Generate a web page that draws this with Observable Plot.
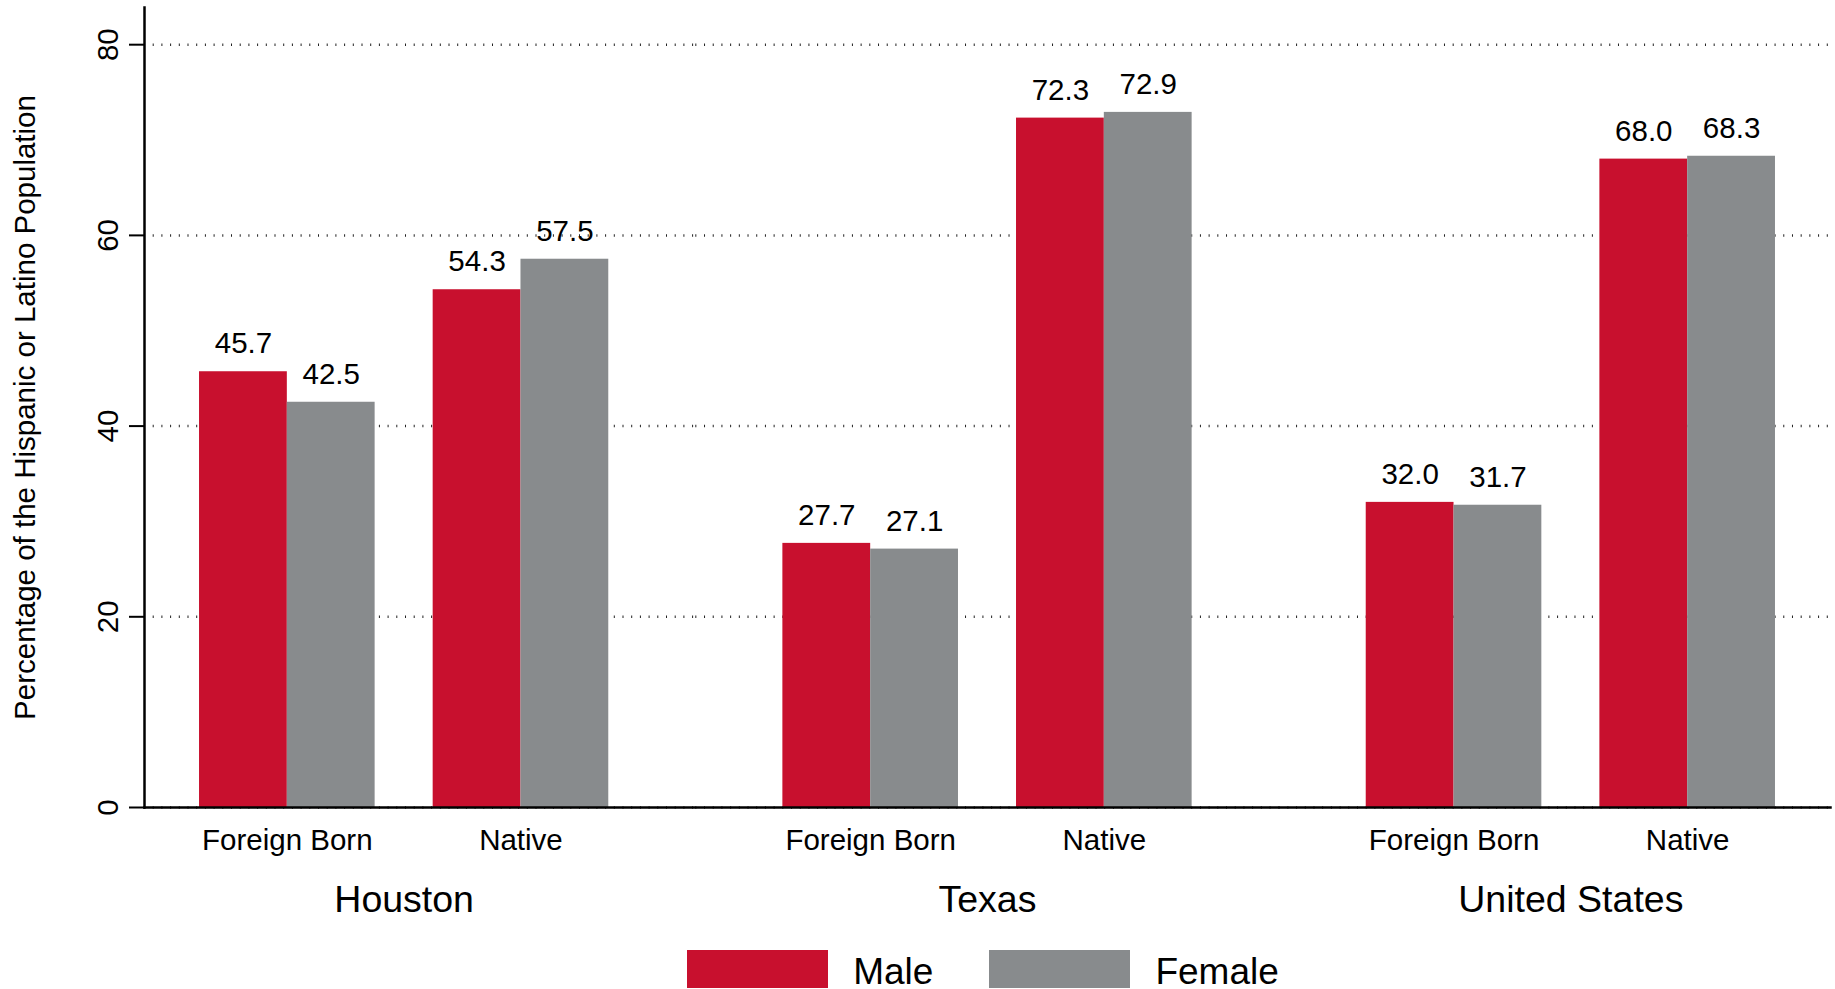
<!DOCTYPE html>
<html><head><meta charset="utf-8">
<script src="https://cdn.jsdelivr.net/npm/d3@7"></script>
<script src="https://cdn.jsdelivr.net/npm/@observablehq/plot@0.6"></script>
<style>
html,body{margin:0;padding:0;background:#fff;}
body{width:1835px;height:989px;overflow:hidden;font-family:"Liberation Sans",Arial,sans-serif;}
#legend{margin-left:140px;width:1686px;margin-top:15px;display:flex;justify-content:center;align-items:center;height:38px;font-size:37px;color:#000;}
#legend .sw{width:141px;height:38px;display:inline-block;}
#legend .lab{margin-left:25px;padding-top:6px;}
#legend .gap{width:56px;display:inline-block;}
</style></head><body>
<div id="chart"></div>
<div id="legend"></div>
<script>
const regions = ["Houston", "Texas", "United States"];
const origins = ["Foreign Born", "Native"];
const sexes = ["Male", "Female"];
const maleValues = [45.7, 54.3, 27.7, 72.3, 32.0, 68.0];
const femaleValues = [42.5, 57.5, 27.1, 72.9, 31.7, 68.3];
const yTicks = [0, 20, 40, 60, 80];
const colors = ["#C8102E", "#888B8D"];
const yLabel = "Percentage of the Hispanic or Latino Population";

const rows = [];
regions.forEach((r, i) => origins.forEach((o, j) => {
  const k = i * origins.length + j;
  rows.push({region: r, origin: o, sex: sexes[0], value: maleValues[k]});
  rows.push({region: r, origin: o, sex: sexes[1], value: femaleValues[k]});
}));
const maleRows = rows.filter(d => d.sex === sexes[0]);
const femaleRows = rows.filter(d => d.sex === sexes[1]);
const font = '"Liberation Sans", Arial, sans-serif';

function build(bw, halfGap) {
  const half = bw / 2;
  const n = regions.length;
  const grids = regions.map((r, i) =>
    Plot.ruleY(yTicks, {y: d => d, fx: () => r, stroke: "#222",
      strokeWidth: 2.5, strokeDasharray: "1 7.7",
      insetLeft: i === 0 ? 0 : -halfGap, insetRight: i === n - 1 ? 0 : -halfGap}));
  return Plot.plot({
    width: 1835, height: 935,
    marginLeft: 144, marginRight: 5, marginTop: 7, marginBottom: 128,
    style: {fontFamily: font, fontSize: "29.8px", color: "#000", background: "#fff", overflow: "visible"},
    fx: {domain: regions, paddingInner: 0.1098, paddingOuter: 0, round: false, axis: null, label: null},
    x: {domain: origins, paddingInner: 0.2484, paddingOuter: 0.2355, round: false, axis: null, label: null},
    y: {domain: [0, 83.9], axis: null},
    color: {domain: sexes, range: colors},
    marks: [
      ...grids,
      Plot.barY(maleRows, {fx: "region", x: "origin", y: "value", fill: "sex", insetRight: half}),
      Plot.barY(femaleRows, {fx: "region", x: "origin", y: "value", fill: "sex", insetLeft: half}),
      Plot.text(maleRows, {fx: "region", x: "origin", y: "value", text: d => d.value.toFixed(1), dx: -bw / 4, dy: -18.5, lineAnchor: "bottom", fontSize: 29.5, fill: "#000"}),
      Plot.text(femaleRows, {fx: "region", x: "origin", y: "value", text: d => d.value.toFixed(1), dx: bw / 4, dy: -18.5, lineAnchor: "bottom", fontSize: 29.5, fill: "#000"}),
      Plot.frame({anchor: "bottom", facet: "super", stroke: "#000", strokeWidth: 2.5}),
      Plot.frame({anchor: "left", facet: "super", stroke: "#000", strokeWidth: 2.5}),
      Plot.axisY({ticks: yTicks, tickSize: 15, tickPadding: 12, tickRotate: -90, strokeWidth: 2, fontSize: 29.5,
        label: yLabel, labelAnchor: "center", labelArrow: "none", labelOffset: 130}),
      Plot.axisX({tickSize: 0, tickPadding: 22, fontSize: 29.5}),
      Plot.text(regions, {fx: d => d, text: d => d, frameAnchor: "bottom", dy: 104, lineAnchor: "bottom", fontSize: 37.5, fill: "#000"})
    ]
  });
}

const probe = build(0, 0);
const bw = probe.scale("x").bandwidth;
const fxs = probe.scale("fx");
const fxStep = fxs.apply(regions[1]) - fxs.apply(regions[0]);
const halfGap = (fxStep - fxs.bandwidth) / 2;
const chart = build(bw, halfGap);
document.getElementById("chart").appendChild(chart);

const legend = document.getElementById("legend");
sexes.forEach((s, i) => {
  if (i > 0) { const g = document.createElement("span"); g.className = "gap"; legend.appendChild(g); }
  const sw = document.createElement("span"); sw.className = "sw"; sw.style.background = colors[i];
  const lab = document.createElement("span"); lab.className = "lab"; lab.textContent = s;
  legend.appendChild(sw); legend.appendChild(lab);
});
</script>
</body></html>
